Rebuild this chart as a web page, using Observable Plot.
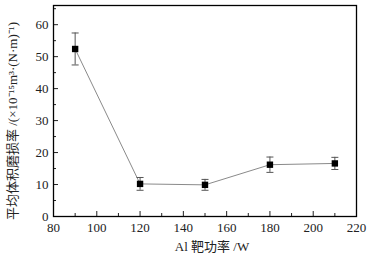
<!DOCTYPE html>
<html><head><meta charset="utf-8">
<script src="https://cdn.jsdelivr.net/npm/d3@7"></script>
<script src="https://cdn.jsdelivr.net/npm/@observablehq/plot@0.6"></script>
<style>body{margin:0;background:#fff}</style>
</head><body><div id="chart"></div>
<script>
const power = [90, 120, 150, 180, 210];
const wear = [52.4, 10.2, 9.9, 16.2, 16.6];
const err = [5.0, 2.0, 1.7, 2.4, 1.9];
const xTicks = [80, 100, 120, 140, 160, 180, 200, 220];
const xMinor = [90, 110, 130, 150, 170, 190, 210];
const yTicks = [0, 10, 20, 30, 40, 50, 60];
const yMinor = [5, 15, 25, 35, 45, 55, 65];
const xLabel = "Al 靶功率 /W";
const yLabel = "平均体积磨损率 /(×10⁻¹⁵m³·(N·m)⁻¹)";

const data = power.map((p, i) => ({x: p, y: wear[i], lo: wear[i] - err[i], hi: wear[i] + err[i]}));
const font = "'Liberation Serif', 'Noto Sans CJK SC', serif";
const cap = {draw(ctx, size) { const w = 3.5; ctx.moveTo(-w, 0); ctx.lineTo(w, 0); }};

const chart = Plot.plot({
  width: 376, height: 262,
  marginLeft: 53, marginRight: 20, marginTop: 5, marginBottom: 46,
  style: {fontFamily: font, fontSize: "13px", color: "#222", background: "#fff"},
  x: {type: "linear", domain: [80, 220]},
  y: {type: "linear", domain: [0, 66]},
  marks: [
    Plot.axisX(xTicks, {tickSize: 0, tickPadding: 6, label: null, fontSize: 13}),
    Plot.axisX(xTicks, {tickSize: -5, text: null, label: null}),
    Plot.axisX(xMinor, {tickSize: -3, text: null, label: null}),
    Plot.axisY(yTicks, {tickSize: 0, tickPadding: 5, label: null, fontSize: 13}),
    Plot.axisY(yTicks, {tickSize: -5, text: null, label: null}),
    Plot.axisY(yMinor, {tickSize: -3, text: null, label: null}),
    Plot.line(data, {x: "x", y: "y", stroke: "#8a8a8a", strokeWidth: 1}),
    Plot.ruleX(data, {x: "x", y1: "lo", y2: "hi", stroke: "#555", strokeWidth: 1}),
    Plot.dot(data, {x: "x", y: "lo", symbol: cap, r: 3, stroke: "#555", fill: "none", strokeWidth: 1}),
    Plot.dot(data, {x: "x", y: "hi", symbol: cap, r: 3, stroke: "#555", fill: "none", strokeWidth: 1}),
    Plot.dot(data, {x: "x", y: "y", symbol: "square", r: 3.6, fill: "#000", stroke: "none"}),
    Plot.frame({stroke: "#000", strokeWidth: 1.3}),
    Plot.text([xLabel], {frameAnchor: "bottom", dy: 34, dx: 7, fontSize: 13, fill: "#222"}),
    Plot.text([yLabel], {frameAnchor: "left", textAnchor: "middle", dx: -41, dy: 10, rotate: -90, fontSize: 13, fill: "#222"})
  ]
});
document.getElementById("chart").appendChild(chart);
</script>
</body></html>
